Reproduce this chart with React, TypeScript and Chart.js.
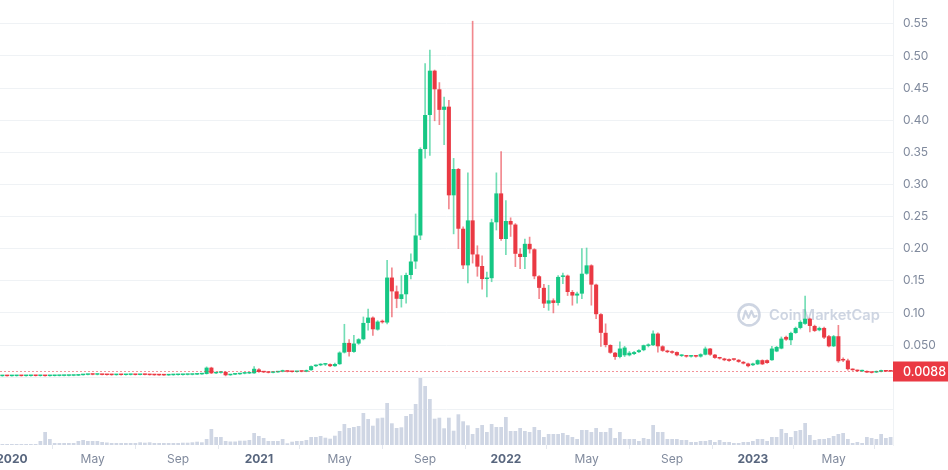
import React, { useEffect, useRef } from 'react';
import { Chart, registerables } from 'chart.js';

Chart.register(...registerables);

// Weekly candles, first week starting 2019-12-23
const START_WEEK = '2019-12-23';

const opens = [
  0.0016, 0.0017, 0.0016, 0.0017, 0.0018, 0.0017, 0.0018, 0.0019, 0.0018, 0.0020,
  0.0017, 0.0018, 0.0019, 0.0020, 0.0021, 0.0022, 0.0024, 0.0031, 0.0036, 0.0040,
  0.0038, 0.0041, 0.0035, 0.0033, 0.0032, 0.0034, 0.0033, 0.0035, 0.0036, 0.0034,
  0.0037, 0.0035, 0.0032, 0.0030, 0.0029, 0.0028, 0.0031, 0.0033, 0.0034, 0.0036,
  0.0037, 0.0040, 0.0044, 0.0050, 0.0148, 0.0060, 0.0068, 0.0082, 0.0030, 0.0040,
  0.0045, 0.0055, 0.0058, 0.0060, 0.0120, 0.0080, 0.0075, 0.0068, 0.0075, 0.0085,
  0.0095, 0.0085, 0.0080, 0.0088, 0.0085, 0.0109, 0.0171, 0.0185, 0.0195, 0.0202,
  0.0171, 0.0202, 0.0383, 0.0533, 0.0393, 0.0523, 0.0590, 0.0844, 0.0927, 0.0740,
  0.0870, 0.0850, 0.1550, 0.1335, 0.1216, 0.1290, 0.1590, 0.1800, 0.2205, 0.3550,
  0.4080, 0.4770, 0.4480, 0.4160, 0.4210, 0.2830, 0.3240, 0.2310, 0.1740, 0.2440,
  0.1910, 0.1730, 0.1527, 0.1540, 0.2410, 0.2860, 0.2150, 0.2430, 0.2375, 0.1920,
  0.1870, 0.2075, 0.1990, 0.1570, 0.1390, 0.1145, 0.1195, 0.1155, 0.1560, 0.1580,
  0.1325, 0.1270, 0.1300, 0.1610, 0.1740, 0.1440, 0.0980, 0.0690, 0.0500, 0.0380,
  0.0315, 0.0340, 0.0340, 0.0360, 0.0390, 0.0420, 0.0486, 0.0497, 0.0678, 0.0480,
  0.0410, 0.0400, 0.0390, 0.0330, 0.0330, 0.0320, 0.0330, 0.0320, 0.0350, 0.0445,
  0.0350, 0.0300, 0.0290, 0.0280, 0.0280, 0.0270, 0.0238, 0.0212, 0.0186, 0.0200,
  0.0264, 0.0264, 0.0264, 0.0400, 0.0445, 0.0626, 0.0575, 0.0688, 0.0766, 0.0830,
  0.0910, 0.0797, 0.0730, 0.0766, 0.0637, 0.0480, 0.0637, 0.0280, 0.0260, 0.0124,
  0.0109, 0.0090, 0.0093, 0.0078, 0.0073, 0.0083, 0.0100, 0.0093,
];

const highs = [
  0.0018, 0.0019, 0.0018, 0.0019, 0.0020, 0.0019, 0.0020, 0.0021, 0.0021, 0.0024,
  0.0019, 0.0020, 0.0021, 0.0022, 0.0023, 0.0025, 0.0032, 0.0038, 0.0042, 0.0046,
  0.0043, 0.0044, 0.0038, 0.0036, 0.0035, 0.0037, 0.0036, 0.0038, 0.0039, 0.0038,
  0.0046, 0.0037, 0.0034, 0.0032, 0.0031, 0.0032, 0.0034, 0.0036, 0.0037, 0.0039,
  0.0041, 0.0046, 0.0052, 0.0160, 0.0155, 0.0072, 0.0082, 0.0085, 0.0042, 0.0047,
  0.0057, 0.0062, 0.0066, 0.0165, 0.0135, 0.0088, 0.0080, 0.0078, 0.0088, 0.0110,
  0.0098, 0.0090, 0.0092, 0.0093, 0.0112, 0.0175, 0.0190, 0.0210, 0.0215, 0.0208,
  0.0220, 0.0395, 0.0823, 0.0585, 0.0650, 0.0600, 0.0937, 0.1060, 0.0940, 0.0880,
  0.0890, 0.1820, 0.1700, 0.1420, 0.1580, 0.1620, 0.1920, 0.2540, 0.3570, 0.4880,
  0.5090, 0.4780, 0.4585, 0.4360, 0.4310, 0.3405, 0.3250, 0.2340, 0.3180, 0.5540,
  0.2045, 0.1890, 0.1635, 0.2460, 0.3180, 0.3510, 0.2750, 0.2480, 0.2390, 0.2000,
  0.2150, 0.2180, 0.2000, 0.1580, 0.1445, 0.1430, 0.1220, 0.1580, 0.1620, 0.1590,
  0.1350, 0.1325, 0.2000, 0.2010, 0.1750, 0.1450, 0.0990, 0.0830, 0.0505, 0.0385,
  0.0550, 0.0480, 0.0400, 0.0400, 0.0430, 0.0500, 0.0520, 0.0720, 0.0690, 0.0490,
  0.0420, 0.0410, 0.0395, 0.0350, 0.0340, 0.0340, 0.0340, 0.0365, 0.0470, 0.0450,
  0.0355, 0.0310, 0.0295, 0.0285, 0.0285, 0.0275, 0.0245, 0.0220, 0.0220, 0.0270,
  0.0270, 0.0270, 0.0480, 0.0480, 0.0626, 0.0640, 0.0700, 0.0780, 0.0880, 0.1260,
  0.0920, 0.0810, 0.0780, 0.0780, 0.0650, 0.0650, 0.0807, 0.0300, 0.0280, 0.0130,
  0.0112, 0.0112, 0.0098, 0.0080, 0.0096, 0.0112, 0.0104, 0.0095,
];

const lows = [
  0.0014, 0.0015, 0.0015, 0.0016, 0.0016, 0.0016, 0.0017, 0.0017, 0.0016, 0.0015,
  0.0015, 0.0017, 0.0018, 0.0019, 0.0020, 0.0021, 0.0023, 0.0029, 0.0034, 0.0036,
  0.0035, 0.0033, 0.0031, 0.0030, 0.0030, 0.0031, 0.0031, 0.0033, 0.0033, 0.0033,
  0.0034, 0.0031, 0.0029, 0.0027, 0.0026, 0.0027, 0.0029, 0.0031, 0.0032, 0.0034,
  0.0035, 0.0038, 0.0042, 0.0048, 0.0055, 0.0055, 0.0062, 0.0020, 0.0028, 0.0037,
  0.0043, 0.0051, 0.0055, 0.0058, 0.0075, 0.0070, 0.0065, 0.0064, 0.0072, 0.0082,
  0.0080, 0.0078, 0.0078, 0.0082, 0.0083, 0.0105, 0.0165, 0.0178, 0.0180, 0.0165,
  0.0166, 0.0198, 0.0375, 0.0326, 0.0385, 0.0510, 0.0580, 0.0730, 0.0650, 0.0730,
  0.0840, 0.0830, 0.0937, 0.1080, 0.1090, 0.1150, 0.1530, 0.1690, 0.2140, 0.3410,
  0.3450, 0.3990, 0.3930, 0.3620, 0.2620, 0.2230, 0.2000, 0.1690, 0.1465, 0.1775,
  0.1570, 0.1370, 0.1250, 0.1485, 0.2290, 0.2130, 0.1905, 0.2190, 0.1720, 0.1690,
  0.1690, 0.1930, 0.1530, 0.1220, 0.1080, 0.1040, 0.1000, 0.1120, 0.1455, 0.1270,
  0.1120, 0.1150, 0.1220, 0.1600, 0.1120, 0.0910, 0.0480, 0.0470, 0.0370, 0.0275,
  0.0300, 0.0320, 0.0330, 0.0350, 0.0380, 0.0410, 0.0470, 0.0490, 0.0390, 0.0400,
  0.0380, 0.0370, 0.0330, 0.0320, 0.0310, 0.0310, 0.0310, 0.0310, 0.0345, 0.0340,
  0.0290, 0.0280, 0.0255, 0.0245, 0.0260, 0.0230, 0.0205, 0.0160, 0.0180, 0.0195,
  0.0195, 0.0215, 0.0260, 0.0395, 0.0440, 0.0570, 0.0507, 0.0680, 0.0750, 0.0820,
  0.0704, 0.0710, 0.0720, 0.0600, 0.0470, 0.0475, 0.0230, 0.0240, 0.0110, 0.0105,
  0.0088, 0.0085, 0.0070, 0.0064, 0.0070, 0.0080, 0.0085, 0.0085,
];

const closes = [
  0.0017, 0.0016, 0.0017, 0.0018, 0.0017, 0.0018, 0.0019, 0.0018, 0.0020, 0.0017,
  0.0018, 0.0019, 0.0020, 0.0021, 0.0022, 0.0024, 0.0031, 0.0036, 0.0040, 0.0038,
  0.0041, 0.0035, 0.0033, 0.0032, 0.0034, 0.0033, 0.0035, 0.0036, 0.0034, 0.0037,
  0.0035, 0.0032, 0.0030, 0.0029, 0.0028, 0.0031, 0.0033, 0.0034, 0.0036, 0.0037,
  0.0040, 0.0044, 0.0050, 0.0148, 0.0060, 0.0068, 0.0078, 0.0030, 0.0040, 0.0045,
  0.0055, 0.0060, 0.0064, 0.0130, 0.0080, 0.0075, 0.0068, 0.0075, 0.0085, 0.0095,
  0.0085, 0.0080, 0.0088, 0.0085, 0.0109, 0.0171, 0.0185, 0.0195, 0.0200, 0.0171,
  0.0205, 0.0383, 0.0533, 0.0393, 0.0523, 0.0590, 0.0844, 0.0927, 0.0745, 0.0865,
  0.0854, 0.1550, 0.1335, 0.1220, 0.1290, 0.1590, 0.1800, 0.2205, 0.3550, 0.4080,
  0.4770, 0.4480, 0.4160, 0.4210, 0.2830, 0.3240, 0.2310, 0.1740, 0.2440, 0.1910,
  0.1720, 0.1527, 0.1540, 0.2410, 0.2860, 0.2150, 0.2430, 0.2375, 0.1920, 0.1870,
  0.2075, 0.1990, 0.1570, 0.1390, 0.1145, 0.1195, 0.1155, 0.1560, 0.1580, 0.1325,
  0.1270, 0.1300, 0.1610, 0.1740, 0.1440, 0.0980, 0.0690, 0.0500, 0.0380, 0.0315,
  0.0445, 0.0460, 0.0380, 0.0390, 0.0420, 0.0497, 0.0507, 0.0678, 0.0480, 0.0410,
  0.0390, 0.0380, 0.0340, 0.0340, 0.0320, 0.0330, 0.0320, 0.0357, 0.0445, 0.0350,
  0.0300, 0.0290, 0.0264, 0.0253, 0.0270, 0.0238, 0.0212, 0.0171, 0.0212, 0.0264,
  0.0200, 0.0220, 0.0445, 0.0470, 0.0600, 0.0585, 0.0688, 0.0766, 0.0860, 0.0910,
  0.0797, 0.0720, 0.0766, 0.0616, 0.0480, 0.0637, 0.0248, 0.0260, 0.0124, 0.0109,
  0.0093, 0.0105, 0.0073, 0.0067, 0.0093, 0.0109, 0.0088, 0.0088,
];

// Weekly volume, millions USD (relative)
const volumes = [
  1, 1, 1, 1, 1, 1, 1, 1, 4, 13,
  6, 2, 2, 2, 2, 2, 4, 5, 4, 4,
  4, 3, 2.5, 2, 2, 2, 2, 2, 2, 2.7,
  2.3, 2.7, 2, 2, 2, 2, 2, 2, 2.3, 2.3,
  2.7, 3.3, 2.7, 6, 16, 8, 8, 4, 3.5, 3.5,
  4.3, 4.3, 5, 12, 9, 7, 4, 4, 4, 6,
  1.7, 3.3, 4, 4, 5, 8, 8, 9, 7.3, 6.3,
  9.3, 14, 21, 17, 18, 19, 32, 26, 19.3, 26.7,
  27.3, 42, 21.7, 17, 17.7, 29, 31, 41, 67, 59,
  46, 26.3, 27.3, 16.7, 27.3, 14.3, 30.7, 23.7, 19.7, 11,
  17, 20, 13, 21, 18, 18, 28, 14, 14, 17,
  14, 13, 18, 15, 8, 11, 11, 11, 12, 10,
  8, 6, 15, 15, 13, 17, 13, 13, 17, 7,
  13, 6, 6, 6, 4, 7, 6, 20, 13, 13,
  6, 6, 6, 5, 5, 3, 3, 4, 4, 5,
  3, 5, 3, 3, 2, 2, 3, 3, 4, 6,
  6, 4, 8, 8, 16, 12, 8, 14, 15, 22,
  10, 5, 6, 6, 7, 9, 11, 12, 6, 2,
  3, 2, 8, 7, 6, 11, 7, 8,
];

// x-axis tick labels
const xTickMonths = ['2020-01', '2020-05', '2020-09', '2021-01', '2021-05', '2021-09', '2022-01', '2022-05', '2022-09', '2023-01', '2023-05'];
const xTickLabels = ['2020', 'May', 'Sep', '2021', 'May', 'Sep', '2022', 'May', 'Sep', '2023', 'May'];

// y-axis grid levels and their labels
const priceTicks = [-0.05, 0, 0.05, 0.1, 0.15, 0.2, 0.25, 0.3, 0.35, 0.4, 0.45, 0.5, 0.55];
const priceTickLabels = ['', '', '0.050', '0.10', '0.15', '0.20', '0.25', '0.30', '0.35', '0.40', '0.45', '0.50', '0.55'];

const PRICE_MIN = -0.1056;
const PRICE_MAX = 0.587;
const VOL_HEADROOM = 6.64;

const GREEN = '#16c784';
const RED = '#ea3943';
const GREEN_WICK = 'rgba(22,199,132,0.6)';
const RED_WICK = 'rgba(234,57,67,0.6)';
const VOL_COLOR = '#cfd6e4';
const GRID = '#eff2f5';
const WATERMARK = 'rgba(190,199,216,0.75)';
const FONT = 'Inter, "Noto Sans", sans-serif';

export default function App() {
  const ref = useRef<HTMLCanvasElement>(null);

  useEffect(() => {
    const n = opens.length;
    const DAY = 86400000;
    const startMs = Date.parse(START_WEEK + 'T00:00:00Z');
    const weekLabels = Array.from({ length: n }, (_, i) => new Date(startMs + i * 7 * DAY).toISOString().slice(0, 10));
    const tickIndex: Record<number, string> = {};
    xTickMonths.forEach((m, k) => {
      const ms = Date.parse(m + '-01T00:00:00Z');
      let idx = -1;
      for (let i = 0; i < n; i++) {
        if (startMs + i * 7 * DAY >= ms) { idx = i; break; }
      }
      if (idx >= 0) tickIndex[idx] = xTickLabels[k];
    });
    const isYear = (s: string) => /^\d{4}$/.test(s);
    const up = closes.map((c, i) => c >= opens[i]);
    const lastClose = closes[n - 1];

    const overlay = {
      id: 'overlay',
      beforeDatasetsDraw(chart: any) {
        const { ctx, chartArea } = chart;
        const cx = chartArea.right - 144;
        const cy = chart.scales.y.getPixelForValue(0.1) + 2;
        ctx.save();
        ctx.strokeStyle = WATERMARK;
        ctx.lineWidth = 2.6;
        ctx.lineJoin = 'round';
        ctx.lineCap = 'round';
        ctx.beginPath();
        ctx.arc(cx, cy, 10.5, 0, Math.PI * 2);
        ctx.stroke();
        ctx.lineWidth = 2.2;
        ctx.beginPath();
        ctx.moveTo(cx - 6, cy + 4);
        ctx.lineTo(cx - 3.5, cy - 4);
        ctx.lineTo(cx - 0.5, cy + 3);
        ctx.lineTo(cx + 2.5, cy - 4);
        ctx.lineTo(cx + 5, cy + 2);
        ctx.lineTo(cx + 7.5, cy + 1);
        ctx.stroke();
        ctx.fillStyle = WATERMARK;
        let size = 16;
        ctx.font = `600 ${size}px ${FONT}`;
        const w = ctx.measureText('CoinMarketCap').width;
        if (w > 111) {
          size = size * 111 / w;
          ctx.font = `600 ${size}px ${FONT}`;
        }
        ctx.textBaseline = 'middle';
        ctx.textAlign = 'left';
        ctx.fillText('CoinMarketCap', cx + 20, cy + 1);
        ctx.restore();
      },
      afterDraw(chart: any) {
        const { ctx, chartArea } = chart;
        const y = Math.round(chart.scales.y.getPixelForValue(lastClose)) + 0.5;
        ctx.save();
        ctx.strokeStyle = 'rgba(234,57,67,0.55)';
        ctx.lineWidth = 1;
        ctx.setLineDash([2, 2]);
        ctx.beginPath();
        ctx.moveTo(chartArea.left, y);
        ctx.lineTo(chartArea.right, y);
        ctx.stroke();
        ctx.setLineDash([]);
        ctx.fillStyle = RED;
        ctx.fillRect(chartArea.right, y - 10, chart.width - chartArea.right, 20);
        ctx.fillStyle = '#ffffff';
        ctx.font = '500 12.5px ' + FONT;
        ctx.textBaseline = 'middle';
        ctx.textAlign = 'left';
        ctx.fillText(lastClose.toFixed(4), chartArea.right + 10, y + 0.5);
        ctx.restore();
      },
    };

    const chart = new Chart(ref.current as HTMLCanvasElement, {
      type: 'bar',
      data: {
        labels: weekLabels,
        datasets: [
          {
            label: 'body',
            data: opens.map((o, i) => [o, closes[i]]),
            backgroundColor: up.map((u) => (u ? GREEN : RED)),
            grouped: false,
            barPercentage: 0.86,
            categoryPercentage: 1,
            minBarLength: 1.5,
            borderWidth: 0,
            yAxisID: 'y',
            order: 1,
          } as any,
          {
            label: 'wick',
            data: lows.map((l, i) => [l, highs[i]]),
            backgroundColor: up.map((u) => (u ? GREEN_WICK : RED_WICK)),
            grouped: false,
            barThickness: 1,
            borderWidth: 0,
            yAxisID: 'y',
            order: 2,
          } as any,
          {
            label: 'volume',
            data: volumes,
            backgroundColor: VOL_COLOR,
            grouped: false,
            barPercentage: 0.78,
            categoryPercentage: 1,
            borderWidth: 0,
            yAxisID: 'yv',
            order: 3,
          } as any,
        ],
      },
      options: {
        responsive: true,
        maintainAspectRatio: false,
        animation: false,
        events: [],
        layout: { padding: 0 },
        plugins: { legend: { display: false }, tooltip: { enabled: false } },
        scales: {
          x: {
            type: 'category',
            offset: true,
            grid: { display: true, drawOnChartArea: false, drawTicks: true, tickLength: 4, tickColor: '#e3e7ee' },
            border: { display: false },
            ticks: {
              autoSkip: false,
              maxRotation: 0,
              minRotation: 0,
              padding: 3,
              color: (ctx: any) => (isYear(ctx.tick?.label ?? '') ? '#58667e' : '#808a9d'),
              font: (ctx: any) => ({ family: FONT, size: 12, weight: isYear(ctx.tick?.label ?? '') ? 'bold' : 'normal' }),
              callback: (v: any) => tickIndex[v as number] ?? '',
            },
            afterBuildTicks: (s: any) => {
              s.ticks = s.ticks.filter((t: any) => tickIndex[t.value] !== undefined);
            },
            afterFit: (s: any) => {
              s.height = 25;
              s.paddingLeft = 0;
              s.paddingRight = 0;
            },
          },
          y: {
            position: 'right',
            min: PRICE_MIN,
            max: PRICE_MAX,
            grid: { color: GRID, drawTicks: false },
            border: { display: true, color: GRID },
            ticks: {
              padding: 10,
              color: '#808a9d',
              font: { family: FONT, size: 12 },
              callback: (v: any) => {
                const k = priceTicks.findIndex((p) => Math.abs(p - v) < 1e-9);
                return k >= 0 ? priceTickLabels[k] : '';
              },
            },
            afterBuildTicks: (s: any) => {
              s.ticks = priceTicks.map((v) => ({ value: v }));
            },
            afterFit: (s: any) => {
              s.width = 55;
              s.paddingTop = 0;
              s.paddingBottom = 0;
            },
          },
          yv: {
            display: false,
            position: 'left',
            min: 0,
            max: Math.max(...volumes) * VOL_HEADROOM,
          },
        },
      } as any,
      plugins: [overlay],
    });
    return () => chart.destroy();
  }, []);

  return (
    <div style={{ position: 'absolute', left: 0, top: 0, width: 948, height: 470, background: '#ffffff' }}>
      <canvas ref={ref} />
    </div>
  );
}
